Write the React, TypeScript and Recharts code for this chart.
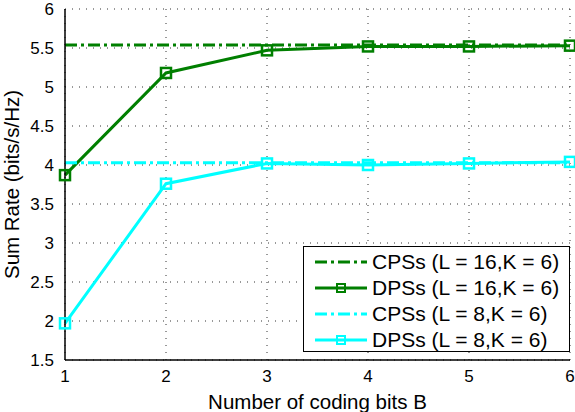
import { LineChart, Line, XAxis, YAxis, CartesianGrid } from 'recharts';

const codingBits = [1, 2, 3, 4, 5, 6];
const cpss16 = [5.54, 5.54, 5.54, 5.54, 5.54, 5.54];
const dpss16 = [3.87, 5.18, 5.47, 5.52, 5.52, 5.53];
const cpss8 = [4.03, 4.03, 4.03, 4.03, 4.03, 4.03];
const dpss8 = [1.97, 3.76, 4.02, 4.0, 4.02, 4.04];
const yTicks = [1.5, 2, 2.5, 3, 3.5, 4, 4.5, 5, 5.5, 6];

const GREEN = '#007f00';
const CYAN = '#00ffff';
const DASH = '12 4 3 4';
const FONT = 'Liberation Sans, Arial, sans-serif';

const data = codingBits.map((b, i) => ({
  b,
  cpss16: cpss16[i],
  dpss16: dpss16[i],
  cpss8: cpss8[i],
  dpss8: dpss8[i],
}));

const legendItems = [
  { label: 'CPSs (L = 16,K = 6)', color: GREEN, dashed: true },
  { label: 'DPSs (L = 16,K = 6)', color: GREEN, dashed: false },
  { label: 'CPSs (L = 8,K = 6)', color: CYAN, dashed: true },
  { label: 'DPSs (L = 8,K = 6)', color: CYAN, dashed: false },
];

const squareDot = (color: string) => (props: any) => {
  const { cx, cy, index } = props;
  if (cx == null || cy == null) return <g key={index} />;
  return (
    <rect
      key={index}
      x={cx - 5}
      y={cy - 5}
      width={10}
      height={10}
      fill="none"
      stroke={color}
      strokeWidth={2.5}
    />
  );
};

const LegendBox = () => (
  <div
    style={{
      position: 'absolute',
      left: 303,
      top: 246,
      width: 267,
      height: 106,
      border: '1.5px solid #000',
      background: '#fff',
      fontFamily: FONT,
      fontSize: 21,
      color: '#000',
      boxSizing: 'border-box',
      paddingTop: 2,
    }}
  >
    {legendItems.map((it) => (
      <div key={it.label} style={{ display: 'flex', alignItems: 'center', height: 26 }}>
        <svg width={56} height={14} style={{ marginLeft: 9, marginRight: 3, flex: 'none' }}>
          <line
            x1={2}
            y1={7}
            x2={54}
            y2={7}
            stroke={it.color}
            strokeWidth={3}
            strokeDasharray={it.dashed ? DASH : undefined}
          />
          {!it.dashed && (
            <rect x={24} y={3} width={8} height={8} fill="none" stroke={it.color} strokeWidth={2} />
          )}
        </svg>
        <span style={{ whiteSpace: 'nowrap' }}>{it.label}</span>
      </div>
    ))}
  </div>
);

export default function App() {
  const tick = { fontFamily: FONT, fontSize: 17, fill: '#000' };
  return (
    <div style={{ position: 'absolute', left: 0, top: 0, width: 575, height: 412, background: '#fff' }}>
      <LineChart
        width={575}
        height={412}
        data={data}
        margin={{ top: 9, right: 5, left: 0, bottom: 0 }}
      >
        <CartesianGrid stroke="#333" strokeDasharray="1 6" />
        <XAxis
          dataKey="b"
          type="number"
          domain={[1, 6]}
          ticks={codingBits}
          height={52}
          stroke="#000"
          strokeWidth={1.5}
          tickLine={false}
          tick={tick}
          fontSize={17}
          tickMargin={4}
          label={{
            value: 'Number of coding bits B',
            position: 'insideBottom',
            offset: 3,
            style: { fontFamily: FONT, fontSize: 20.5, fill: '#000' },
          }}
        />
        <XAxis
          xAxisId="top"
          orientation="top"
          dataKey="b"
          type="number"
          domain={[1, 6]}
          ticks={codingBits}
          height={0}
          stroke="#000"
          strokeWidth={1.5}
          tick={false}
          tickLine={false}
        />
        <YAxis
          type="number"
          domain={[1.5, 6]}
          ticks={yTicks}
          width={65}
          stroke="#000"
          strokeWidth={1.5}
          tickLine={false}
          tick={tick}
          fontSize={17}
          tickMargin={5}
          interval={0}
          label={{
            value: 'Sum Rate (bits/s/Hz)',
            angle: -90,
            position: 'insideLeft',
            offset: 12,
            style: { textAnchor: 'middle', fontFamily: FONT, fontSize: 20.5, fill: '#000' },
          }}
        />
        <YAxis
          yAxisId="right"
          orientation="right"
          type="number"
          domain={[1.5, 6]}
          ticks={yTicks}
          width={0}
          stroke="#000"
          strokeWidth={1.5}
          tick={false}
          tickLine={false}
        />
        <Line
          dataKey="cpss16"
          stroke={GREEN}
          strokeWidth={3}
          strokeDasharray={DASH}
          dot={false}
          isAnimationActive={false}
        />
        <Line
          dataKey="dpss16"
          stroke={GREEN}
          strokeWidth={3}
          dot={squareDot(GREEN)}
          isAnimationActive={false}
        />
        <Line
          dataKey="cpss8"
          stroke={CYAN}
          strokeWidth={3}
          strokeDasharray={DASH}
          dot={false}
          isAnimationActive={false}
        />
        <Line
          dataKey="dpss8"
          stroke={CYAN}
          strokeWidth={3}
          dot={squareDot(CYAN)}
          isAnimationActive={false}
        />
      </LineChart>
      <LegendBox />
    </div>
  );
}
